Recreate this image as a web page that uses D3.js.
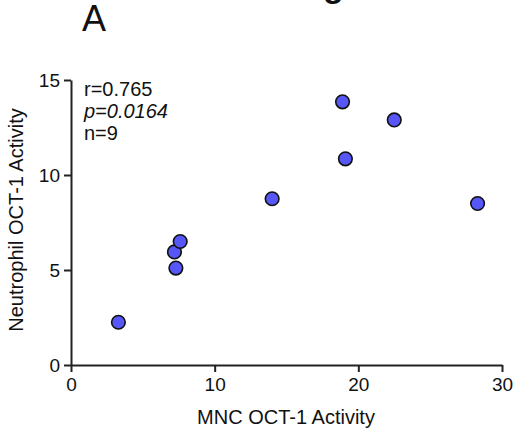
<!DOCTYPE html>
<html>
<head>
<meta charset="utf-8">
<script src="https://cdn.jsdelivr.net/npm/d3@7"></script>
<style>
  body { margin: 0; background: #fff; }
  text { font-family: "Liberation Sans", Arial, sans-serif; fill: #111; }
</style>
</head>
<body>
<svg id="chart" width="515" height="434"></svg>
<script>
// MNC vs neutrophil OCT-1 activity, one point per patient
var mncActivity = [3.3, 7.3, 7.2, 7.6, 14.0, 28.3, 18.9, 22.5, 19.1];
var neutActivity = [2.25, 5.1, 5.95, 6.5, 8.75, 8.5, 13.85, 12.9, 10.85];
var xTicks = [0, 10, 20, 30];
var yTicks = [0, 5, 10, 15];
var statsLines = ["r=0.765", "p=0.0164", "n=9"];

var svg = d3.select("#chart");

var x = d3.scaleLinear().domain([0, 30]).range([71, 502]);
var y = d3.scaleLinear().domain([0, 15]).range([365, 80]);

// panel letter + bold title above it, cut off by the top edge
svg.append("text")
    .attr("x", 323).attr("y", -3)
    .attr("font-size", 34).attr("font-weight", "bold")
    .text("g");
svg.append("text")
    .attr("x", 82).attr("y", 31)
    .attr("font-size", 36)
    .text("A");

var xAxis = svg.append("g")
    .attr("transform", "translate(0," + y(0) + ")")
    .call(d3.axisBottom(x).tickValues(xTicks).tickSize(7).tickPadding(6).tickSizeOuter(0));
var yAxis = svg.append("g")
    .attr("transform", "translate(" + x(0) + ",0)")
    .call(d3.axisLeft(y).tickValues(yTicks).tickSize(7).tickPadding(4).tickSizeOuter(0));

[xAxis, yAxis].forEach(function(ax){
    ax.select(".domain").attr("stroke", "#222").attr("stroke-width", 2);
    ax.selectAll(".tick line").attr("stroke", "#222").attr("stroke-width", 2);
    ax.selectAll(".tick text")
        .attr("font-family", "Liberation Sans, Arial, sans-serif")
        .attr("font-size", 19)
        .attr("fill", "#111");
});

svg.append("text")
    .attr("x", 286).attr("y", 424)
    .attr("text-anchor", "middle")
    .attr("font-size", 20)
    .text("MNC OCT-1 Activity");

svg.append("text")
    .attr("transform", "translate(23,220) rotate(-90)")
    .attr("text-anchor", "middle")
    .attr("font-size", 20)
    .text("Neutrophil OCT-1 Activity");

svg.append("g").selectAll("text")
    .data(statsLines)
    .enter()
    .append("text")
    .attr("x", 84)
    .attr("y", function(d, i){ return 96 + i * 22; })
    .attr("font-size", 20)
    .attr("font-style", function(d, i){ return i == 1 ? "italic" : "normal"; })
    .text(function(d){ return d; });

svg.append("g").selectAll("circle")
    .data(mncActivity)
    .enter()
    .append("circle")
    .attr("cx", function(d){ return x(d); })
    .attr("cy", function(d, i){ return y(neutActivity[i]); })
    .attr("r", 6.8)
    .attr("fill", "#5757F7")
    .attr("stroke", "#111")
    .attr("stroke-width", 1.6);
</script>
</body>
</html>
